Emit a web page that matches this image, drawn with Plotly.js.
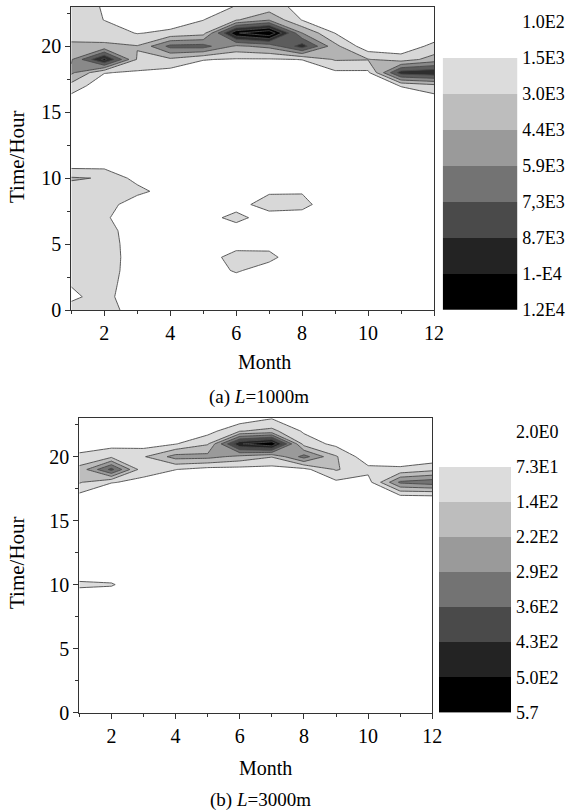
<!DOCTYPE html>
<html><head><meta charset="utf-8">
<script src="https://cdn.plot.ly/plotly-3.0.1.min.js"></script>
<style>html,body{margin:0;padding:0;background:#fff}#chart{width:577px;height:811px}</style>
</head><body><div id="chart"></div>
<script>
// Months (x) and hours (y) of the grid
const months = [1,2,3,4,5,6,7,8,9,10,11,12];
const hours = [0,1,2,3,4,5,6,7,8,9,10,11,12,13,14,15,16,17,18,19,20,21,22,23];

// (a) L=1000m  — one row per hour (0 .. 23), columns = months 1..12
const zA = [
  [1947, 2265, 749, 244, 180, 160, 150, 140, 150, 160, 170, 180],
  [1327, 1976, 605, 230, 170, 150, 140, 130, 140, 150, 160, 170],
  [1615, 2120, 677, 244, 200, 533, 260, 150, 140, 150, 160, 170],
  [2120, 2265, 749, 260, 533, 1759, 677, 180, 150, 150, 160, 170],
  [2120, 2265, 822, 280, 822, 2120, 2048, 200, 150, 150, 160, 170],
  [2120, 2265, 749, 260, 389, 966, 966, 190, 150, 150, 160, 170],
  [2120, 2265, 533, 250, 300, 822, 389, 200, 150, 150, 160, 170],
  [2120, 1832, 244, 240, 966, 1976, 822, 677, 200, 150, 160, 170],
  [2265, 2553, 244, 230, 250, 966, 2265, 2120, 244, 160, 160, 170],
  [2409, 2697, 2120, 605, 244, 244, 1327, 1399, 244, 170, 160, 170],
  [3130, 2885, 966, 389, 244, 200, 300, 400, 244, 180, 170, 170],
  [966, 966, 389, 244, 200, 180, 190, 200, 180, 170, 170, 170],
  [400, 350, 250, 200, 180, 170, 170, 170, 170, 170, 170, 170],
  [300, 280, 220, 190, 170, 160, 160, 160, 160, 160, 170, 180],
  [300, 260, 210, 180, 170, 160, 160, 160, 160, 160, 180, 200],
  [400, 280, 220, 190, 180, 170, 170, 170, 180, 190, 250, 300],
  [966, 389, 244, 200, 200, 190, 190, 200, 230, 260, 533, 966],
  [2409, 533, 300, 260, 250, 250, 260, 280, 389, 389, 1615, 2409],
  [4718, 1615, 1327, 966, 533, 533, 533, 677, 1254, 1254, 8037, 8469],
  [4285, 9191, 2842, 2697, 1615, 1399, 1399, 1572, 3130, 3058, 2265, 3563],
  [3202, 3275, 3058, 6305, 6449, 4140, 4862, 8037, 3419, 533, 533, 1976],
  [2553, 2265, 1471, 1832, 2409, 10057, 11500, 4450, 1514, 389, 389, 533],
  [2409, 1514, 533, 822, 1514, 2842, 4285, 1471, 677, 244, 244, 244],
  [1976, 1471, 389, 389, 822, 1615, 2120, 1110, 389, 244, 244, 244]
];

// (b) L=3000m
const zB = [
  [8, 7, 6, 5, 5, 5, 5, 5, 5, 5, 5, 5],
  [8, 7, 6, 5, 5, 5, 5, 5, 5, 5, 5, 5],
  [8, 7, 6, 5, 5, 5, 5, 5, 5, 5, 5, 5],
  [8, 7, 6, 5, 5, 5, 5, 5, 5, 5, 5, 5],
  [9, 7, 6, 5, 5, 5, 5, 5, 5, 5, 5, 5],
  [9, 7, 6, 5, 5, 5, 5, 5, 5, 5, 5, 5],
  [10, 8, 6, 5, 5, 5, 5, 5, 5, 5, 5, 5],
  [12, 9, 6, 5, 5, 5, 5, 5, 5, 5, 5, 5],
  [16, 12, 7, 5, 5, 5, 5, 5, 5, 5, 5, 5],
  [30, 25, 10, 6, 5, 5, 5, 5, 5, 5, 5, 5],
  [87.7, 80.5, 20, 8, 6, 5, 5, 5, 5, 5, 5, 5],
  [30, 25, 10, 6, 5, 5, 5, 5, 5, 5, 5, 5],
  [12, 9, 7, 6, 5, 5, 5, 5, 5, 5, 5, 6],
  [10, 8, 7, 6, 5, 5, 5, 5, 5, 5, 6, 7],
  [10, 8, 7, 6, 5, 5, 5, 5, 5, 6, 8, 9],
  [14, 8, 7, 6, 6, 6, 6, 6, 6, 7, 10, 12],
  [23.4, 9, 7, 6, 6, 6, 6, 6, 7, 9, 16.3, 16.3],
  [59.1, 16.3, 9.1, 8, 8, 8, 8, 9, 12, 12, 74.8, 77],
  [151.9, 77, 59.1, 23.4, 16.3, 16.3, 16.3, 16.3, 59.1, 44.8, 301.9, 330.4],
  [166.2, 380.4, 94.8, 74.8, 44.8, 44.8, 44.8, 52, 151.9, 94.8, 87.7, 123.4],
  [94.8, 130.5, 137.7, 244.8, 241.2, 194.8, 148.4, 316.2, 151.9, 23.4, 23.4, 23.4],
  [23.4, 44.8, 37.7, 69.8, 137.7, 494.7, 566, 116.2, 53.4, 16.3, 16.3, 16.3],
  [9.1, 16.3, 16.3, 16.3, 44.8, 141.2, 166.2, 62.7, 16.3, 9.1, 9.1, 9.1],
  [5, 8, 8, 9, 16.3, 23.4, 69.8, 30, 9, 5, 5, 5]
];

// Contour levels and their colour-scale labels
const levelsA = [100, 1543, 2986, 4429, 5871, 7314, 8757, 10200, 11643];
const labelsA = ['1.0E2','1.5E3','3.0E3','4.4E3','5.9E3','7,3E3','8.7E3','1.-E4','1.2E4'];
const levelsB = [2, 73.4, 144.8, 216.2, 287.6, 359, 430.4, 501.8, 573.2];
const labelsB = ['2.0E0','7.3E1','1.4E2','2.2E2','2.9E2','3.6E2','4.3E2','5.0E2','5.7'];

const grays = ['#ffffff','#dcdcdc','#bdbdbd','#9a9a9a','#737373','#4a4a4a','#232323','#000000'];

// contour fill colour scale: region below first drawn level = white, above last = black
const nFill = grays.length;
const fillScale = [];
for (let j = 0; j <= nFill; j++) fillScale.push([j / nFill, grays[Math.min(j, nFill - 1)]]);

const barScale = grays.map((c, i) => [i / (grays.length - 1), c]);
const bandIdx = grays.map((c, i) => i);
const bandZ = bandIdx.map(i => [i]);
const bandEdges = [];
for (let i = 0; i <= grays.length; i++) bandEdges.push(i - 0.5);

const serif = 'Liberation Serif, Times New Roman, serif';
const W = 577, H = 811;
const px = (a, b) => [a / W, b / W];
const py = (top, bot) => [1 - bot / H, 1 - top / H];

function contourTrace(z, levels, xa, ya) {
  return {
    type: 'contour', x: months, y: hours, z: z, xaxis: xa, yaxis: ya,
    autocontour: false,
    contours: {start: levels[1], end: levels[levels.length - 1], size: levels[2] - levels[1], coloring: 'fill', showlines: true},
    colorscale: fillScale, showscale: false,
    line: {color: '#4a4a4a', width: 0.9, smoothing: 0},
    hoverinfo: 'skip'
  };
}
function barTrace(xa, ya) {
  return {
    type: 'heatmap', x: [0], y: bandIdx, z: bandZ, xaxis: xa, yaxis: ya,
    colorscale: barScale, zmin: 0, zmax: grays.length - 1, showscale: false, hoverinfo: 'skip'
  };
}

const data = [
  contourTrace(zA, levelsA, 'x', 'y'),
  contourTrace(zB, levelsB, 'x2', 'y2'),
  barTrace('x3', 'y3'),
  barTrace('x4', 'y4')
];

const tickFont = {family: serif, size: 20, color: '#000'};
function xAx(dom, anchor) {
  return {domain: dom, anchor: anchor, range: [1, 12], tick0: 0, dtick: 2, ticks: 'outside', ticklen: 5, tickwidth: 1,
    tickcolor: '#333', showline: true, linecolor: '#333', linewidth: 1, mirror: true, showgrid: false, zeroline: false,
    tickfont: tickFont, minor: {tick0: 1, dtick: 2, ticks: 'outside', ticklen: 3, tickcolor: '#333', showgrid: false}};
}
function yAx(dom, anchor) {
  return {domain: dom, anchor: anchor, range: [0, 23], tick0: 0, dtick: 5, ticks: 'outside', ticklen: 5, tickwidth: 1,
    tickcolor: '#333', showline: true, linecolor: '#333', linewidth: 1, mirror: true, showgrid: false, zeroline: false,
    tickfont: tickFont, minor: {tick0: 0, dtick: 2.5, ticks: 'outside', ticklen: 3, tickcolor: '#333', showgrid: false}};
}
function barX(dom, anchor) {
  return {domain: dom, anchor: anchor, range: [-0.5, 0.5], showticklabels: false, ticks: '', showline: false, showgrid: false, zeroline: false, fixedrange: true};
}
function barY(dom, anchor, labels) {
  return {domain: dom, anchor: anchor, side: 'right', range: [grays.length - 0.5 + 0.02, -0.52],
    tickmode: 'array', tickvals: bandEdges, ticktext: labels, ticks: '', showline: false, showgrid: false, zeroline: false,
    ticklabelstandoff: 4, tickfont: {family: serif, size: 18, color: '#000'}};
}

const ann = (text, x, y, size, angle) => ({text: text, x: x / W, y: 1 - y / H, xref: 'paper', yref: 'paper', showarrow: false,
  xanchor: 'center', yanchor: 'middle', textangle: angle || 0, font: {family: serif, size: size, color: '#000'}});

const layout = {
  width: W, height: H, margin: {l: 0, r: 0, t: 0, b: 0}, paper_bgcolor: '#fff', plot_bgcolor: '#fff', showlegend: false,
  xaxis: xAx(px(71.3, 434), 'y'),
  yaxis: yAx(py(6.7, 310), 'x'),
  xaxis2: xAx(px(79.3, 432.3), 'y2'),
  yaxis2: yAx(py(418.3, 712.5), 'x2'),
  xaxis3: barX(px(442.7, 517.3), 'y3'),
  yaxis3: barY(py(21, 310), 'x3', labelsA),
  xaxis4: barX(px(439, 511), 'y4'),
  yaxis4: barY(py(430.7, 713), 'x4', labelsB),
  annotations: [
    ann('Month', 264, 362, 20),
    ann('Time/Hour', 17, 157, 21, -90),
    ann('(a) <i>L</i>=1000m', 259, 397, 19),
    ann('Month', 265, 768, 20),
    ann('Time/Hour', 17, 563, 21, -90),
    ann('(b) <i>L</i>=3000m', 260, 800, 19)
  ]
};

Plotly.newPlot('chart', data, layout, {staticPlot: true, displayModeBar: false});
</script></body></html>
